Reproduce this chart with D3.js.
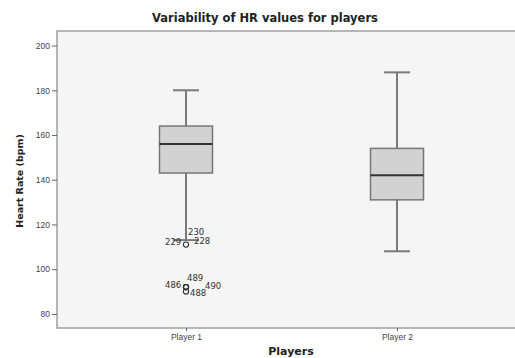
<!DOCTYPE html>
<html>
<head>
<meta charset="utf-8">
<script src="https://cdn.jsdelivr.net/npm/d3@7"></script>
<style>
  body { margin: 0; background: #fff; }
  svg { display: block; font-family: "DejaVu Sans", sans-serif; }
</style>
</head>
<body>
<svg id="chart" width="515" height="358"></svg>
<script>
// Data
var players = ["Player 1", "Player 2"];
var whisker_lo = [113, 108];
var q1 = [143, 131];
var medians = [156, 142];
var q3 = [164, 154];
var whisker_hi = [180, 188];

// outliers (player index, value, case id)
var outlier_player = [0, 0, 0, 0, 0];
var outlier_value = [111, 92, 90, 92, 92];
var outlier_ids = ["229", "486", "488", "489", "490"];

// case labels, some share a circle
var label_text = ["229", "230", "228", "486", "489", "490", "488"];
var label_value = [111, 111, 111, 92, 92, 92, 90];
var label_dx = [-21, 2, 8, -21, 1, 19, 4];
var label_dy = [-2, -12, -3, -2, -9, -1, 2];

var y_ticks = [80, 100, 120, 140, 160, 180, 200];

var W = 515, H = 358;
var margin = { top: 31, right: -4, bottom: 30, left: 57 };

var svg = d3.select("#chart");

var y = d3.scaleLinear()
  .domain([73.7, 206.5])
  .range([H - margin.bottom, margin.top]);

var x = d3.scalePoint()
  .domain(players)
  .range([186, 397]);

// plot background
svg.append("rect")
  .attr("x", margin.left)
  .attr("y", margin.top)
  .attr("width", W - margin.left - margin.right)
  .attr("height", H - margin.top - margin.bottom)
  .attr("fill", "#f5f5f5")
  .attr("stroke", "#a0a0a0")
  .attr("stroke-width", 1.5);

// axes
var y_axis = svg.append("g")
  .attr("transform", "translate(" + margin.left + ",0)")
  .call(d3.axisLeft(y).tickValues(y_ticks).tickSize(5).tickPadding(2));

var x_axis = svg.append("g")
  .attr("transform", "translate(0," + (H - margin.bottom) + ")")
  .call(d3.axisBottom(x).tickSize(3).tickPadding(3));

[y_axis, x_axis].forEach(function (ax) {
  ax.select(".domain").remove();
  ax.selectAll("line").attr("stroke", "#666").attr("stroke-width", 1);
  ax.selectAll("text")
    .attr("fill", "#444")
    .style("font-size", "8.5px");
});

// boxes
var box_w = 53, cap_w = 26;
var boxes = svg.append("g").selectAll("g")
  .data(players)
  .join("g");

boxes.append("line")
  .attr("x1", function (d) { return x(d); })
  .attr("x2", function (d) { return x(d); })
  .attr("y1", function (d, i) { return y(whisker_lo[i]); })
  .attr("y2", function (d, i) { return y(whisker_hi[i]); })
  .attr("stroke", "#7a7a7a")
  .attr("stroke-width", 2);

boxes.selectAll("line.cap")
  .data(function (d, i) { return [[d, whisker_lo[i]], [d, whisker_hi[i]]]; })
  .join("line")
  .attr("class", "cap")
  .attr("x1", function (d) { return x(d[0]) - cap_w / 2; })
  .attr("x2", function (d) { return x(d[0]) + cap_w / 2; })
  .attr("y1", function (d) { return y(d[1]); })
  .attr("y2", function (d) { return y(d[1]); })
  .attr("stroke", "#7a7a7a")
  .attr("stroke-width", 2);

boxes.append("rect")
  .attr("x", function (d) { return x(d) - box_w / 2; })
  .attr("y", function (d, i) { return y(q3[i]); })
  .attr("width", box_w)
  .attr("height", function (d, i) { return y(q1[i]) - y(q3[i]); })
  .attr("fill", "#d2d2d2")
  .attr("stroke", "#777")
  .attr("stroke-width", 1.5);

boxes.append("line")
  .attr("x1", function (d) { return x(d) - box_w / 2; })
  .attr("x2", function (d) { return x(d) + box_w / 2; })
  .attr("y1", function (d, i) { return y(medians[i]); })
  .attr("y2", function (d, i) { return y(medians[i]); })
  .attr("stroke", "#333")
  .attr("stroke-width", 2);

// outliers
svg.append("g").selectAll("circle")
  .data(outlier_value)
  .join("circle")
  .attr("cx", function (d, i) { return x(players[outlier_player[i]]); })
  .attr("cy", function (d) { return y(d); })
  .attr("r", 2.6)
  .attr("fill", "none")
  .attr("stroke", "#333")
  .attr("stroke-width", 1.1);

svg.append("g").selectAll("text")
  .data(label_text)
  .join("text")
  .attr("x", function (d, i) { return x(players[0]) + label_dx[i]; })
  .attr("y", function (d, i) { return y(label_value[i]) + label_dy[i]; })
  .attr("text-anchor", "start")
  .attr("dominant-baseline", "middle")
  .style("font-size", "8.5px")
  .attr("fill", "#333")
  .text(function (d) { return d; });

// titles
svg.append("text")
  .attr("x", 265)
  .attr("y", 22)
  .attr("text-anchor", "middle")
  .style("font-size", "11.5px")
  .style("font-weight", "bold")
  .attr("fill", "#222")
  .text("Variability of HR values for players");

svg.append("text")
  .attr("transform", "translate(23,181) rotate(-90)")
  .attr("text-anchor", "middle")
  .style("font-size", "9.5px")
  .style("font-weight", "bold")
  .attr("fill", "#222")
  .text("Heart Rate (bpm)");

svg.append("text")
  .attr("x", 291)
  .attr("y", 355)
  .attr("text-anchor", "middle")
  .style("font-size", "11px")
  .style("font-weight", "bold")
  .attr("fill", "#222")
  .text("Players");
</script>
</body>
</html>
